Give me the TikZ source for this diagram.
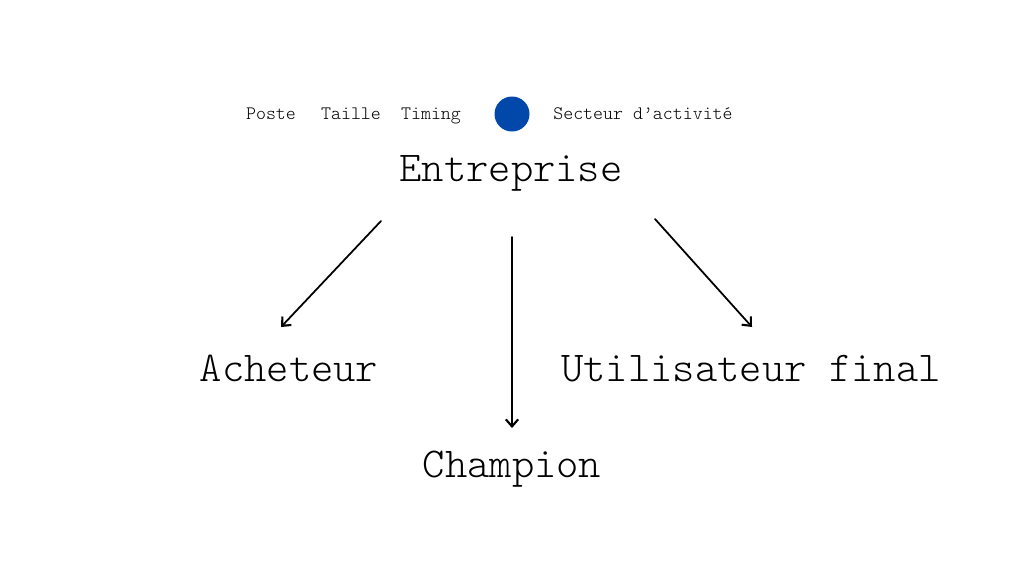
\documentclass[tikz,border=0pt]{standalone}
\usepackage{fontspec}
\setmonofont{lmmonolt10-regular.otf}
\usetikzlibrary{arrows.meta}
\definecolor{dotblue}{RGB}{2,72,170}

\begin{document}
\begin{tikzpicture}[line cap=round,line join=round,x=0.02cm,y=-0.02cm,
    small/.style={anchor=base,font=\ttfamily\fontsize{10.8pt}{13pt}\selectfont},
    big/.style={anchor=base,font=\ttfamily\fontsize{24.2pt}{28pt}\selectfont},
    link/.style={line width=1pt,-{Straight Barb[length=4pt,width=7pt,line width=1.2pt]}}]

    \useasboundingbox (0,0) rectangle (1024,576);

    % top row
    \node[small] (poste) at (271,119) {Poste};
    \node[small] (taille) at (351,119) {Taille};
    \node[small] (timing) at (431,119) {Timing};
    \node[circle, fill=dotblue, minimum size=0.7cm, inner sep=0pt] (dot) at (512,114) {};
    \node[small] (secteur) at (643,119) {Secteur d’activité};

    \node[big] (entreprise) at (511,181) {Entreprise};

    \node[big] (acheteur) at (289,381) {Acheteur};
    \node[big] (utilisateur) at (751,381) {Utilisateur final};
    \node[big] (champion) at (512,477) {Champion};

    % arrow ends
    \coordinate (a1) at (381,221);
    \coordinate (a2) at (281,327);
    \coordinate (b1) at (512,237);
    \coordinate (b2) at (512,428);
    \coordinate (c1) at (655,219);
    \coordinate (c2) at (752,327);

    \draw[link] (a1) -- (a2);
    \draw[link] (b1) -- (b2);
    \draw[link] (c1) -- (c2);

\end{tikzpicture}
\end{document}
